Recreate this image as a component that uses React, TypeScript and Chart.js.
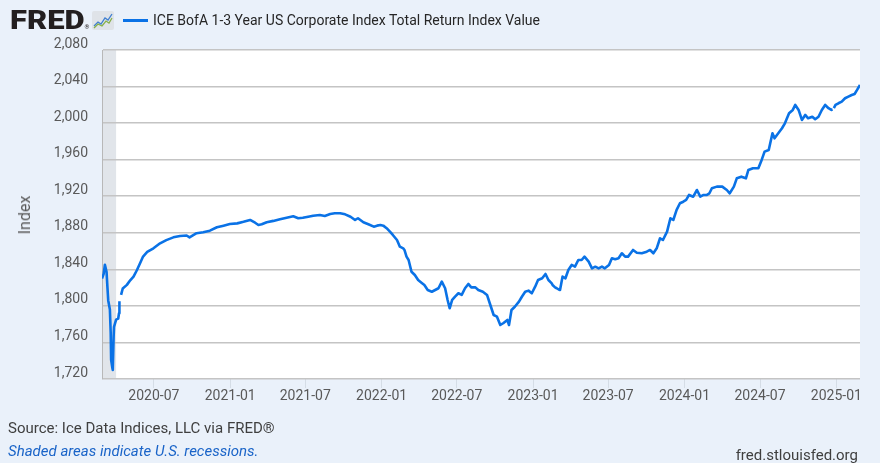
import React, { useEffect, useRef } from "react";
import { Chart, registerables } from "chart.js";

Chart.register(...registerables);

// ---------- data ----------
const seriesLabel = "ICE BofA 1-3 Year US Corporate Index Total Return Index Value";

const data2020: [string, number | null][] = [
  ["2020-02-27", 1830], ["2020-03-02", 1835], ["2020-03-05", 1845], ["2020-03-09", 1837],
  ["2020-03-11", 1821], ["2020-03-13", 1806], ["2020-03-17", 1796], ["2020-03-19", 1770],
  ["2020-03-20", 1741], ["2020-03-23", 1732], ["2020-03-24", 1730], ["2020-03-26", 1766],
  ["2020-03-27", 1777], ["2020-04-01", 1785], ["2020-04-06", 1786], ["2020-04-08", 1792],
  ["2020-04-09", 1805], ["2020-04-10", null], ["2020-04-13", 1812], ["2020-04-17", 1819],
  ["2020-04-27", 1823], ["2020-05-05", 1828], ["2020-05-13", 1832], ["2020-05-21", 1839],
  ["2020-05-29", 1847], ["2020-06-05", 1854], ["2020-06-15", 1859], ["2020-06-30", 1863],
  ["2020-07-16", 1868.5], ["2020-07-31", 1872], ["2020-08-17", 1875], ["2020-09-02", 1876.5],
  ["2020-09-18", 1877], ["2020-09-25", 1875], ["2020-10-12", 1879.5], ["2020-10-28", 1880.5],
  ["2020-11-13", 1882.3], ["2020-11-30", 1886], ["2020-12-16", 1887.8], ["2020-12-31", 1889.6],
];

const data2021: [string, number | null][] = [
  ["2021-01-18", 1890.3], ["2021-02-02", 1892], ["2021-02-18", 1894], ["2021-03-02", 1891],
  ["2021-03-10", 1888.5], ["2021-03-18", 1889.3], ["2021-03-30", 1891.5], ["2021-04-15", 1893],
  ["2021-05-01", 1894.8], ["2021-05-17", 1896.5], ["2021-06-02", 1898], ["2021-06-14", 1895.9],
  ["2021-06-25", 1896.5], ["2021-07-08", 1897.6], ["2021-07-20", 1898.7], ["2021-08-05", 1899.5],
  ["2021-08-17", 1898.4], ["2021-08-30", 1900.6], ["2021-09-10", 1901.3], ["2021-09-23", 1901.3],
  ["2021-10-05", 1900.2], ["2021-10-18", 1897.6], ["2021-10-29", 1894], ["2021-11-05", 1895.9],
  ["2021-11-18", 1891.5], ["2021-11-30", 1889.3], ["2021-12-13", 1886.7], ["2021-12-21", 1887.8],
  ["2021-12-29", 1888.5],
];

const data2022: [string, number | null][] = [
  ["2022-01-05", 1887.8], ["2022-01-13", 1885], ["2022-01-21", 1881.2], ["2022-01-28", 1877.6],
  ["2022-02-07", 1872.1], ["2022-02-14", 1864.8], ["2022-02-22", 1863], ["2022-02-25", 1861.2],
  ["2022-03-02", 1853.9], ["2022-03-07", 1850.2], ["2022-03-14", 1837.4], ["2022-03-22", 1833.8],
  ["2022-03-30", 1828.3], ["2022-04-07", 1825.4], ["2022-04-14", 1822.9], ["2022-04-22", 1817.4],
  ["2022-05-02", 1815.5], ["2022-05-10", 1817.4], ["2022-05-18", 1819.3], ["2022-05-26", 1826.5],
  ["2022-06-03", 1819.3], ["2022-06-09", 1806.5], ["2022-06-14", 1797.4], ["2022-06-20", 1806.5],
  ["2022-06-27", 1810.1], ["2022-07-05", 1813.8], ["2022-07-13", 1812], ["2022-07-21", 1819.3],
  ["2022-07-29", 1824], ["2022-08-05", 1820.3], ["2022-08-15", 1820.3], ["2022-08-22", 1817.4],
  ["2022-09-02", 1815.5], ["2022-09-12", 1812], ["2022-09-20", 1801], ["2022-09-28", 1790],
  ["2022-10-06", 1788.2], ["2022-10-14", 1779.1], ["2022-10-21", 1781], ["2022-10-31", 1784.6],
  ["2022-11-04", 1779.1], ["2022-11-10", 1795.5], ["2022-11-18", 1799.1], ["2022-11-28", 1804.6],
  ["2022-12-05", 1810], ["2022-12-13", 1815.5], ["2022-12-21", 1816.7], ["2022-12-29", 1813.8],
];

const data2023: [string, number | null][] = [
  ["2023-01-06", 1821], ["2023-01-13", 1828.3], ["2023-01-23", 1830.2], ["2023-01-31", 1834.9],
  ["2023-02-07", 1828.3], ["2023-02-15", 1824.7], ["2023-02-17", 1822.9], ["2023-02-23", 1820.3],
  ["2023-02-27", 1819.3], ["2023-03-03", 1818.2], ["2023-03-07", 1817.4], ["2023-03-13", 1832],
  ["2023-03-20", 1830.2], ["2023-03-27", 1839.3], ["2023-04-04", 1844.8], ["2023-04-12", 1842.9],
  ["2023-04-20", 1850.2], ["2023-04-28", 1850.2], ["2023-05-05", 1853.9], ["2023-05-15", 1848.4],
  ["2023-05-23", 1841.1], ["2023-05-31", 1842.9], ["2023-06-08", 1841.1], ["2023-06-16", 1842.9],
  ["2023-06-23", 1841.1], ["2023-07-03", 1844.8], ["2023-07-10", 1852.1], ["2023-07-18", 1851],
  ["2023-07-26", 1852.1], ["2023-08-03", 1857.6], ["2023-08-11", 1853.9], ["2023-08-18", 1853.9],
  ["2023-08-30", 1861.2], ["2023-09-08", 1858.2], ["2023-09-20", 1857.6], ["2023-10-02", 1859.3],
  ["2023-10-10", 1861.2], ["2023-10-18", 1857.6], ["2023-10-26", 1863], ["2023-11-03", 1874],
  ["2023-11-10", 1872.1], ["2023-11-20", 1881.2], ["2023-11-28", 1895.9], ["2023-12-05", 1894],
  ["2023-12-13", 1905], ["2023-12-21", 1912.3], ["2023-12-29", 1914],
];

const data2024: [string, number | null][] = [
  ["2024-01-05", 1915.9], ["2024-01-12", 1921.4], ["2024-01-22", 1919.5], ["2024-01-31", 1926.8],
  ["2024-02-08", 1919.5], ["2024-02-16", 1921.4], ["2024-02-23", 1921.3], ["2024-03-01", 1923.2],
  ["2024-03-07", 1928.7], ["2024-03-19", 1930.5], ["2024-04-01", 1930.5], ["2024-04-12", 1926.8],
  ["2024-04-19", 1923.2], ["2024-04-29", 1930.5], ["2024-05-06", 1939.6], ["2024-05-17", 1941.4],
  ["2024-05-28", 1939.6], ["2024-06-03", 1948.7], ["2024-06-14", 1950.6], ["2024-06-27", 1950.6],
  ["2024-07-05", 1959.7], ["2024-07-12", 1968.8], ["2024-07-22", 1970.6], ["2024-07-31", 1988.9],
  ["2024-08-05", 1983.4], ["2024-08-14", 1988.9], ["2024-08-23", 1994.4], ["2024-08-30", 1999.8],
  ["2024-09-09", 2010.8], ["2024-09-18", 2014.4], ["2024-09-24", 2019.9], ["2024-10-02", 2014.4],
  ["2024-10-10", 2003.5], ["2024-10-18", 2008.9], ["2024-10-25", 2005.3], ["2024-11-04", 2007],
  ["2024-11-11", 2004.2], ["2024-11-19", 2007], ["2024-11-27", 2014.4], ["2024-12-05", 2019.9],
  ["2024-12-13", 2016.3], ["2024-12-20", 2014.4], ["2024-12-23", 2014.8], ["2024-12-24", null],
  ["2024-12-26", 2016.5], ["2024-12-30", 2019.9],
];

const data2025: [string, number | null][] = [
  ["2025-01-06", 2021.7], ["2025-01-14", 2023.5], ["2025-01-22", 2027.2], ["2025-01-30", 2029],
  ["2025-02-07", 2030.8], ["2025-02-14", 2031.9], ["2025-02-20", 2036.3], ["2025-02-27", 2041.7],
];

const xRange = ["2020-02-27", "2025-02-27"];
const xTickLabels = [
  "2020-07", "2021-01", "2021-07", "2022-01", "2022-07",
  "2023-01", "2023-07", "2024-01", "2024-07", "2025-01",
];
const yMin = 1720;
const yMax = 2080;
const yStep = 40;
const recession = ["2020-02-01", "2020-04-01"];

// ---------- styles ----------
const BG = "#eaf1fa";
const LINE = "#0a72e6";
const TEXT = "#595959";
const FONT = "Roboto, 'Noto Sans', sans-serif";

function ts(d: string): number {
  const [y, m, day] = d.split("-").map(Number);
  return Date.UTC(y, m - 1, day || 1);
}

function fmtMonth(v: number): string {
  const dt = new Date(v);
  return `${dt.getUTCFullYear()}-${String(dt.getUTCMonth() + 1).padStart(2, "0")}`;
}

const bgPlugin = {
  id: "fredBg",
  beforeDraw(chart: any) {
    const { ctx, chartArea: a, scales } = chart;
    const x = scales.x;
    ctx.save();
    ctx.fillStyle = "#ffffff";
    ctx.fillRect(a.left, a.top, a.right - a.left, a.bottom - a.top);
    const x0 = Math.max(x.getPixelForValue(ts(recession[0])), a.left);
    const x1 = Math.min(x.getPixelForValue(ts(recession[1])), a.right);
    if (x1 > x0) {
      ctx.fillStyle = "#e1e5ea";
      ctx.fillRect(x0, a.top, x1 - x0, a.bottom - a.top);
    }
    ctx.restore();
  },
};

export default function App() {
  const ref = useRef<HTMLCanvasElement | null>(null);

  useEffect(() => {
    document.body.style.margin = "0";
    document.body.style.background = BG;
    const canvas = ref.current;
    if (!canvas) return;
    const all = [...data2020, ...data2021, ...data2022, ...data2023, ...data2024, ...data2025];
    const points = all.map(([d, v]) => ({ x: ts(d), y: v }));
    const xTicks = xTickLabels.map((l) => ts(l + "-01"));

    const chart = new Chart(canvas, {
      type: "line",
      data: {
        datasets: [
          {
            label: seriesLabel,
            data: points as any,
            borderColor: LINE,
            backgroundColor: LINE,
            borderWidth: 2.6,
            pointRadius: 0,
            tension: 0,
            spanGaps: false,
            borderJoinStyle: "round",
          },
        ],
      },
      options: {
        animation: false,
        responsive: false,
        devicePixelRatio: 1,
        events: [],
        layout: { padding: { left: 0, right: 20, top: 50, bottom: 463 - 379 - 30 } },
        plugins: { legend: { display: false }, tooltip: { enabled: false }, title: { display: false } },
        scales: {
          x: {
            type: "linear",
            min: ts(xRange[0]),
            max: ts(xRange[1]),
            afterBuildTicks: (scale: any) => {
              scale.ticks = xTicks.map((v) => ({ value: v }));
            },
            afterFit: (scale: any) => {
              scale.height = 30;
              scale.paddingLeft = 0;
              scale.paddingRight = 0;
            },
            ticks: {
              callback: (v: any) => fmtMonth(Number(v)),
              autoSkip: false,
              maxRotation: 0,
              minRotation: 0,
              padding: 0,
              color: TEXT,
              font: { family: FONT, size: 14 },
            },
            grid: {
              drawOnChartArea: false,
              drawTicks: true,
              tickLength: 9,
              tickColor: "#d5dde6",
              lineWidth: 1,
            },
            border: { display: false },
          },
          y: {
            type: "linear",
            min: yMin,
            max: yMax,
            afterFit: (scale: any) => {
              scale.width = 102;
              scale.paddingTop = 0;
              scale.paddingBottom = 0;
            },
            ticks: {
              stepSize: yStep,
              callback: (v: any) => Number(v).toLocaleString("en-US"),
              padding: 14,
              labelOffset: -6,
              color: TEXT,
              font: { family: FONT, size: 14 },
            },
            grid: { color: "#c4c4c4", lineWidth: 1.5, drawTicks: false },
            border: { display: true, color: "#b8b8b8", width: 1 },
          },
        },
      },
      plugins: [bgPlugin],
    });
    return () => chart.destroy();
  }, []);

  const abs = (s: React.CSSProperties): React.CSSProperties => ({ position: "absolute", whiteSpace: "nowrap", ...s });

  return (
    <div style={{ position: "absolute", left: 0, top: 0, width: 880, height: 463, background: BG, overflow: "hidden", fontFamily: FONT }}>
      <canvas ref={ref} width={880} height={463} style={{ position: "absolute", left: 0, top: 0, width: 880, height: 463 }} />
      {/* FRED logo */}
      <div style={abs({ left: 10, top: 5, fontSize: 25, fontWeight: 900, color: "#231f20", letterSpacing: 0, lineHeight: "32px", fontFamily: "Roboto, sans-serif", transform: "scaleX(1.24)", transformOrigin: "left center" })}>
        FRED
        <span style={{ fontSize: 5, fontWeight: 400, letterSpacing: 0, verticalAlign: "baseline" }}>®</span>
      </div>
      <svg style={{ position: "absolute", left: 92, top: 11 }} width={22} height={19} viewBox="0 0 22 19">
        <rect x={0} y={0} width={22} height={19} rx={2} fill="#dfe3e8" />
        <polyline points="2,15 6,11 9,13 13,7 16,9 20,3" fill="none" stroke="#3f7fd0" strokeWidth={1.3} />
        <polyline points="2,17 6,13 10,15 14,10 17,12 20,7" fill="none" stroke="#86b04a" strokeWidth={1.3} />
      </svg>
      {/* legend */}
      <div style={abs({ left: 123, top: 19, width: 25, height: 3, background: LINE })} />
      <div style={abs({ left: 153, top: 10, fontSize: 14, lineHeight: "20px", color: "#262626" })}>{seriesLabel}</div>
      {/* y axis title */}
      <div style={abs({ left: 25, top: 215, fontSize: 16, lineHeight: "20px", color: TEXT, transform: "translate(-50%, -50%) rotate(-90deg)" })}>Index</div>
      {/* footer */}
      <div style={abs({ left: 8, top: 418, fontSize: 15, lineHeight: "20px", color: "#3f3f3f" })}>Source: Ice Data Indices, LLC via FRED®</div>
      <div style={abs({ left: 8, top: 441, fontSize: 15, lineHeight: "20px", color: "#1a64c8", fontStyle: "italic" })}>Shaded areas indicate U.S. recessions.</div>
      <div style={abs({ right: 22, top: 445, fontSize: 15, lineHeight: "20px", color: "#3f3f3f" })}>fred.stlouisfed.org</div>
    </div>
  );
}
